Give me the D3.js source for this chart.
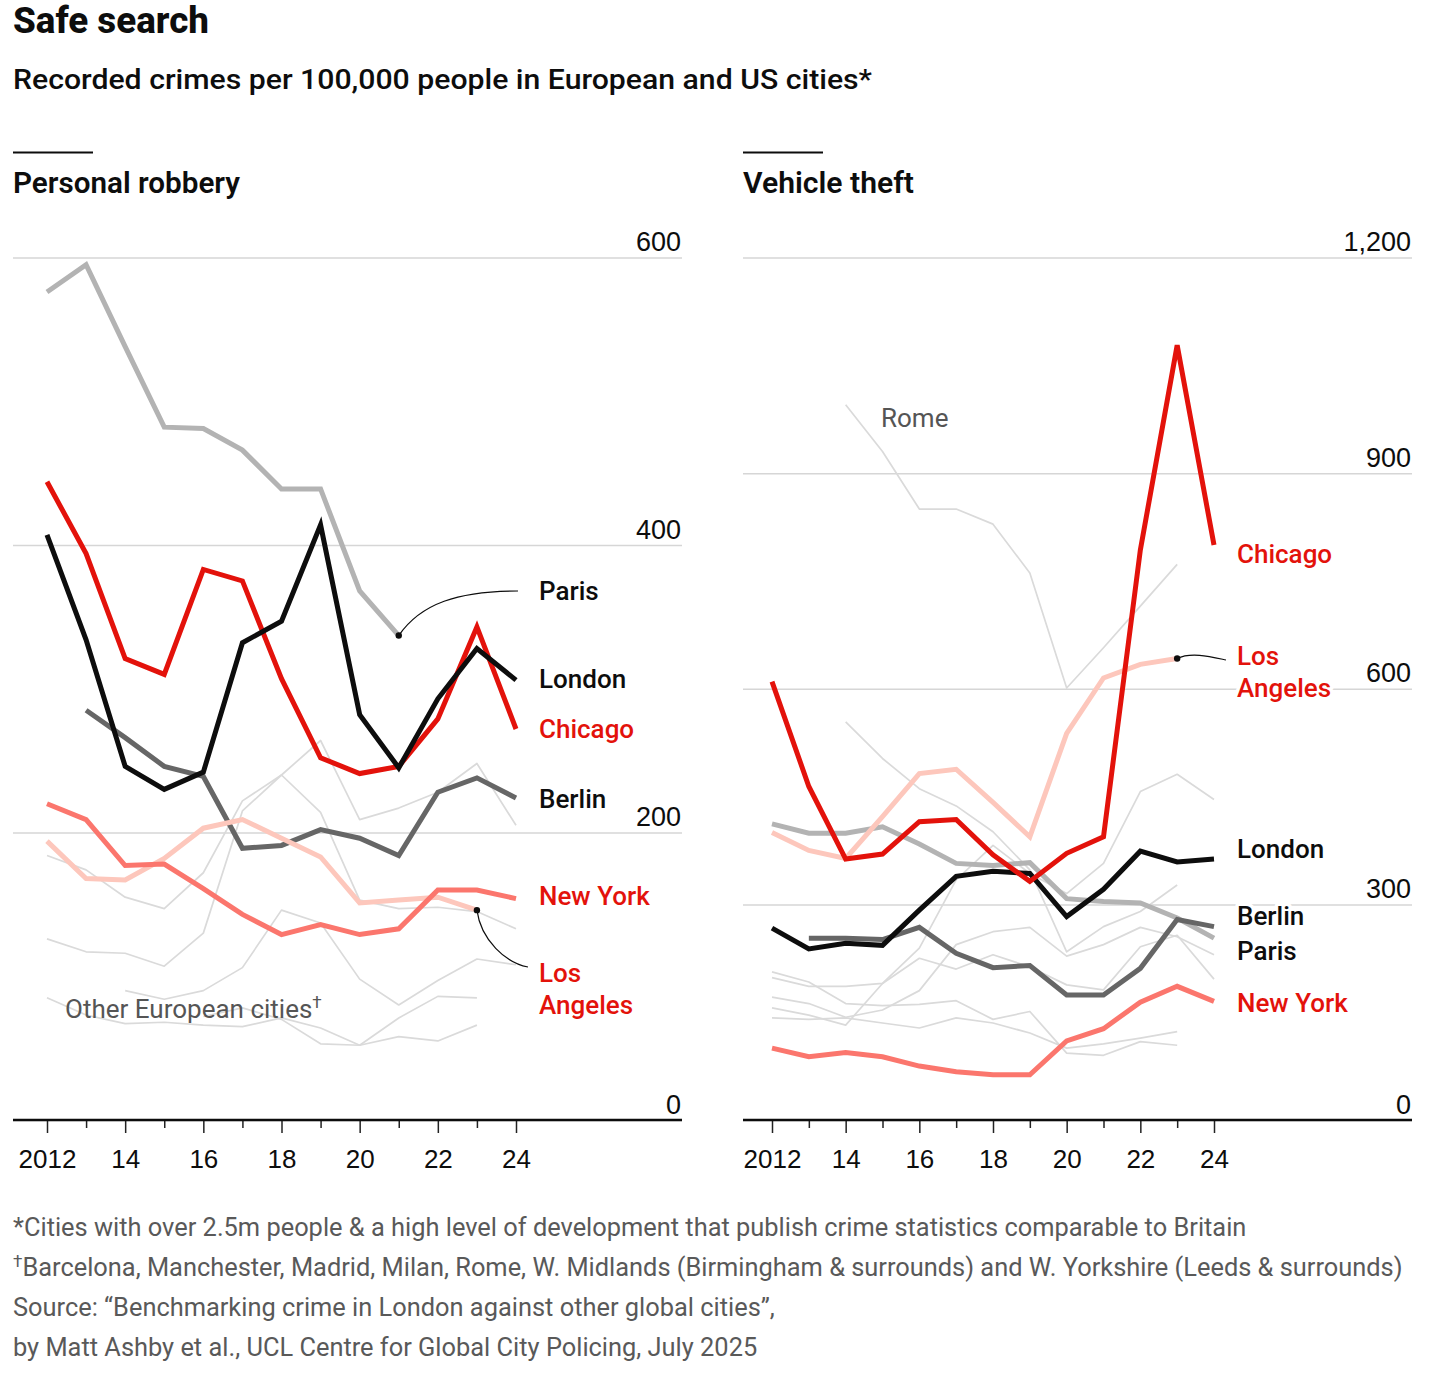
<!DOCTYPE html>
<html>
<head>
<meta charset="utf-8">
<script src="https://cdn.jsdelivr.net/npm/d3@7"></script>
<style>
  body { margin: 0; background: #fff; }
  svg { display: block; font-family: Roboto, "Noto Sans", sans-serif; }
</style>
</head>
<body>
<div id="chart"></div>
<script>
// ---- data ----
const years = d3.range(2012, 2025);

// personal robbery, per 100,000 people
const robParis      = [576, 595, 538, 482, 481, 466, 439, 439, 368, 337, null, null, null];
const robLondon     = [407, 334, 246, 230, 242, 332, 347, 414, 282, 245, 293, 328, 306];
const robChicago    = [444, 394, 321, 310, 383, 375, 307, 252, 241, 246, 279, 343, 272];
const robBerlin     = [null, 285, 266, 246, 239, 189, 191, 202, 196, 184, 228, 238, 224];
const robNewYork    = [220, 209, 177, 178, 161, 143, 129, 136, 129, 133, 160, 160, 154];
const robLosAngeles = [194, 168, 167, 182, 203, 209, 196, 183, 151, 153, 155, 146, null];
const robOthers = [
  [184, 174, 155, 147, 172, 222, 240, 214, 153, 147, 148, 145, 133],
  [126, 117, 116, 107, 130, 215, 240, 264, 209, 217, 228, 248, 205],
  [null, null, 90, 84, 90, 106, 146, 137, 98, 80, 97, 112, 108],
  [85, 73, 67, 68, 66, 65, 71, 64, 52, 58, 55, 66, null],
  [null, null, null, null, 72, 78, 70, 53, 52, 71, 86, 85, null]
];

// vehicle theft, per 100,000 people
const vehChicago    = [610, 464, 363, 370, 415, 418, 369, 332, 371, 394, 793, 1078, 800];
const vehLosAngeles = [400, 375, 364, 422, 482, 488, 442, 394, 538, 615, 634, 642, null];
const vehLondon     = [267, 238, 246, 243, 292, 339, 346, 343, 283, 321, 374, 359, 363];
const vehParis      = [412, 399, 399, 408, 384, 357, 354, 358, 308, 304, 302, 281, 253];
const vehBerlin     = [null, 253, 253, 251, 268, 232, 212, 215, 174, 174, 211, 279, 269];
const vehNewYork    = [100, 88, 94, 88, 75, 67, 63, 63, 110, 127, 164, 186, 165];
const vehRome       = [null, null, 995, 930, 850, 850, 829, 761, 601, 657, 715, 773, null];
const vehOthers = [
  vehRome,
  [null, null, 554, 503, 461, 437, 401, 348, 234, 269, 290, 327, null],
  [156, 146, 132, 190, 239, 334, 382, 343, 315, 357, 457, 481, 446],
  [171, 162, 143, 153, 180, 244, 262, 268, 228, 244, 268, 255, 230],
  [206, 192, 162, 159, 161, 166, 140, 151, 93, 90, 109, 104, null],
  [198, 186, 186, 190, 225, 210, 230, 213, 188, 181, 241, 257, 196],
  [142, 140, 142, 135, 128, 142, 135, 121, 100, 106, 114, 123, null]
];

const robTicks = [0, 200, 400, 600];
const vehTicks = [0, 300, 600, 900, 1200];

const footnotes = [
  '*Cities with over 2.5m people & a high level of development that publish crime statistics comparable to Britain',
  'Barcelona, Manchester, Madrid, Milan, Rome, W. Midlands (Birmingham & surrounds) and W. Yorkshire (Leeds & surrounds)',
  'Source: \u201cBenchmarking crime in London against other global cities\u201d,',
  'by Matt Ashby et al., UCL Centre for Global City Policing, July 2025'
];

// ---- colours ----
const RED = '#e3120b';
const colours = {
  paris: '#b3b3b3', berlin: '#666666', london: '#0d0d0d',
  chicago: RED, newYork: '#fb766d', losAngeles: '#fdc7bc', other: '#dadada'
};

const width = 1444;
const height = 1380;
const panelWidth = 669;

const svg = d3.select('#chart')
              .append('svg')
              .attr('width', width)
              .attr('height', height);

svg.append('rect').attr('width', width).attr('height', height).attr('fill', '#fff');

svg.append('text')
   .attr('x', 13).attr('y', 33)
   .attr('font-size', 36).attr('font-weight', 800)
   .attr('fill', '#0d0d0d')
   .attr('textLength', 196).attr('lengthAdjust', 'spacingAndGlyphs')
   .text('Safe search');

svg.append('text')
   .attr('x', 13).attr('y', 89)
   .attr('font-size', 28).attr('font-weight', 500)
   .attr('fill', '#0d0d0d')
   .attr('textLength', 859).attr('lengthAdjust', 'spacingAndGlyphs')
   .text('Recorded crimes per 100,000 people in European and US cities*');

function addLabel(g, x, y, lines, colour, weight, halo) {
  const t = g.append('text')
             .attr('x', x).attr('y', y)
             .attr('font-size', 26)
             .attr('font-weight', weight || 500)
             .attr('fill', colour);
  if (halo !== false) {
    t.attr('stroke', '#fff').attr('stroke-width', 7)
     .attr('stroke-linejoin', 'round')
     .style('paint-order', 'stroke');
  }
  lines.forEach((l, i) => {
    t.append('tspan').attr('x', x).attr('dy', i === 0 ? 0 : 32).text(l);
  });
  return t;
}

function drawPanel(opts) {
  const g = svg.append('g').attr('transform', 'translate(' + opts.left + ', 0)');

  const x = d3.scaleLinear().domain([2012, 2024]).range(opts.xRange);
  const y = d3.scaleLinear().domain([0, opts.yMax]).range([1120, 257.5]);

  g.append('line')
   .attr('x1', 0).attr('x2', 80)
   .attr('y1', 152.5).attr('y2', 152.5)
   .attr('stroke', '#0d0d0d').attr('stroke-width', 2);

  g.append('text')
   .attr('x', 0).attr('y', 193)
   .attr('font-size', 29).attr('font-weight', 600)
   .attr('fill', '#0d0d0d')
   .attr('textLength', opts.titleWidth).attr('lengthAdjust', 'spacingAndGlyphs')
   .text(opts.title);

  // gridlines + value labels
  const yAxis = d3.axisRight(y)
                  .tickValues(opts.ticks)
                  .tickSize(panelWidth)
                  .tickFormat(d3.format(','));

  const ya = g.append('g').attr('class', 'y-axis').call(yAxis);
  ya.select('.domain').remove();
  ya.selectAll('.tick line').attr('stroke', '#d6d6d6').attr('stroke-width', 1.5);
  ya.selectAll('.tick text')
    .attr('x', panelWidth - 1).attr('dy', -7)
    .attr('text-anchor', 'end')
    .attr('font-size', 27).attr('font-family', null)
    .attr('fill', '#0d0d0d');

  // x axis
  const xAxis = d3.axisBottom(x)
                  .tickValues(years)
                  .tickSize(13)
                  .tickPadding(0)
                  .tickFormat(d => d === 2012 ? '2012' : (d % 2 === 0 ? String(d).slice(2) : ''));

  const xa = g.append('g')
              .attr('transform', 'translate(0, 1120)')
              .call(xAxis);
  xa.select('.domain').remove();
  xa.selectAll('.tick line')
    .attr('y2', d => d % 2 === 0 ? 13 : 8)
    .attr('stroke', '#222').attr('stroke-width', 1.5);
  xa.selectAll('.tick text')
    .attr('y', 48).attr('dy', 0)
    .attr('font-size', 26).attr('font-family', null)
    .attr('fill', '#0d0d0d');

  const line = d3.line()
                 .defined(d => d != null)
                 .x((d, i) => x(years[i]))
                 .y(d => y(d));

  g.append('g')
   .selectAll('path')
   .data(opts.others)
   .enter()
   .append('path')
   .attr('d', line)
   .attr('fill', 'none')
   .attr('stroke', colours.other)
   .attr('stroke-width', 1.7)
   .attr('stroke-linejoin', 'round');

  opts.series.forEach(s => {
    g.append('path')
     .datum(s.values)
     .attr('d', line)
     .attr('fill', 'none')
     .attr('stroke', s.colour)
     .attr('stroke-width', 5)
     .attr('stroke-linejoin', 'miter');
  });

  // baseline drawn over the gridline at zero
  g.append('line')
   .attr('x1', 0).attr('x2', panelWidth)
   .attr('y1', y(0)).attr('y2', y(0))
   .attr('stroke', '#0d0d0d').attr('stroke-width', 2.5);

  // annotation leaders
  opts.leaders.forEach(l => {
    const px = x(years[l.index]);
    const py = y(l.values[l.index]);
    const [tx, ty] = l.to;
    g.append('path')
     .attr('d', 'M' + px + ',' + py + ' C' + (px + l.c[0]) + ',' + (py + l.c[1]) + ' ' +
                (tx + l.c[2]) + ',' + (ty + l.c[3]) + ' ' + tx + ',' + ty)
     .attr('fill', 'none').attr('stroke', '#0d0d0d').attr('stroke-width', 1.2);
    g.append('circle')
     .attr('cx', px).attr('cy', py).attr('r', 3.2)
     .attr('fill', '#0d0d0d');
  });

  opts.labels.forEach(l => addLabel(g, l.x, l.y, l.text, l.colour, l.weight, l.halo));
}

drawPanel({
  left: 13,
  title: 'Personal robbery',
  titleWidth: 227,
  xRange: [34, 503],
  yMax: 600,
  ticks: robTicks,
  others: robOthers,
  series: [
    { values: robParis, colour: colours.paris },
    { values: robBerlin, colour: colours.berlin },
    { values: robLosAngeles, colour: colours.losAngeles },
    { values: robNewYork, colour: colours.newYork },
    { values: robChicago, colour: colours.chicago },
    { values: robLondon, colour: colours.london }
  ],
  leaders: [
    { values: robParis, index: 9, to: [505, 591], c: [22, -32, -60, 0] },
    { values: robLosAngeles, index: 11, to: [515, 967], c: [4, 30, -22, -4] }
  ],
  labels: [
    { x: 526, y: 600, text: ['Paris'], colour: '#0d0d0d' },
    { x: 526, y: 688, text: ['London'], colour: '#0d0d0d' },
    { x: 526, y: 738, text: ['Chicago'], colour: RED },
    { x: 526, y: 808, text: ['Berlin'], colour: '#0d0d0d' },
    { x: 526, y: 905, text: ['New York'], colour: RED },
    { x: 526, y: 982, text: ['Los', 'Angeles'], colour: RED },
    { x: 52, y: 1018, text: ['Other European cities'], colour: '#555', weight: 400, halo: false }
  ]
});

drawPanel({
  left: 743,
  title: 'Vehicle theft',
  titleWidth: 171,
  xRange: [29, 471],
  yMax: 1200,
  ticks: vehTicks,
  others: vehOthers,
  series: [
    { values: vehParis, colour: colours.paris },
    { values: vehBerlin, colour: colours.berlin },
    { values: vehLosAngeles, colour: colours.losAngeles },
    { values: vehNewYork, colour: colours.newYork },
    { values: vehLondon, colour: colours.london },
    { values: vehChicago, colour: colours.chicago }
  ],
  leaders: [
    { values: vehLosAngeles, index: 11, to: [483, 660], c: [14, -7, -14, -3] }
  ],
  labels: [
    { x: 138, y: 427, text: ['Rome'], colour: '#555', weight: 400, halo: false },
    { x: 494, y: 563, text: ['Chicago'], colour: RED },
    { x: 494, y: 665, text: ['Los', 'Angeles'], colour: RED },
    { x: 494, y: 858, text: ['London'], colour: '#0d0d0d' },
    { x: 494, y: 925, text: ['Berlin'], colour: '#0d0d0d' },
    { x: 494, y: 960, text: ['Paris'], colour: '#0d0d0d' },
    { x: 494, y: 1012, text: ['New York'], colour: RED }
  ]
});

// dagger on the "other cities" label
svg.selectAll('text')
   .filter(function () { return d3.select(this).text() === 'Other European cities'; })
   .select('tspan')
   .append('tspan').attr('dy', -10).attr('font-size', 17).text('\u2020');

// footnotes
footnotes.forEach((f, i) => {
  const t = svg.append('text')
               .attr('x', 13).attr('y', 1236 + i * 40)
               .attr('font-size', 25.4)
               .attr('fill', '#595959');
  if (i === 1) {
    t.append('tspan').attr('font-size', 17).attr('dy', -9).text('\u2020');
    t.append('tspan').attr('dy', 9).attr('font-size', 25.4).text(f);
  } else {
    t.text(f);
  }
});
</script>
</body>
</html>
